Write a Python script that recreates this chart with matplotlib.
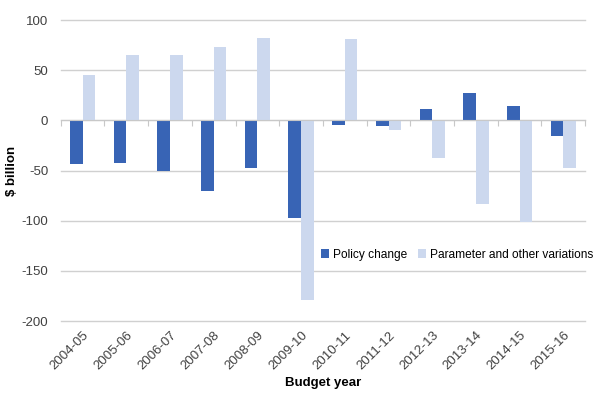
import matplotlib.pyplot as plt
import numpy as np

years = ['2004-05', '2005-06', '2006-07', '2007-08', '2008-09', '2009-10',
         '2010-11', '2011-12', '2012-13', '2013-14', '2014-15', '2015-16']
policy = [-43, -42, -50, -70, -47, -97, -5, -6, 11, 27, 14, -16]
param = [45, 65, 65, 73, 82, -179, 81, -10, -37, -83, -101, -47]

plt.rcParams['font.family'] = ['Liberation Sans', 'DejaVu Sans']
plt.rcParams['axes.unicode_minus'] = False

fig = plt.figure(figsize=(6.02, 3.93), dpi=100)
ax = fig.add_axes([0.101, 0.183, 0.871, 0.766])

x = np.arange(len(years))
w = 0.29
ax.bar(x - w / 2, policy, w, color='#3864B5', label='Policy change', zorder=3)
ax.bar(x + w / 2, param, w, color='#CCD8EE', label='Parameter and other variations', zorder=3)

ax.set_ylim(-200, 100)
ax.set_xlim(-0.5, len(years) - 0.5)
ax.set_yticks(range(-200, 101, 50))
ax.yaxis.grid(True, color='#D0D0D0', linewidth=1, zorder=0, clip_on=False)
ax.tick_params(axis='y', length=0, labelsize=9.5, colors='#404040', pad=9)

for s in ['top', 'right', 'left']:
    ax.spines[s].set_visible(False)
# category axis sits on the zero line, with ticks between categories
ax.spines['bottom'].set_position(('data', 0))
ax.spines['bottom'].set_color('#C8C8C8')
ax.spines['bottom'].set_zorder(4)
ax.set_xticks(np.arange(-0.5, len(years), 1))
ax.tick_params(axis='x', length=4, color='#C8C8C8', labelbottom=False)

# labels at the bottom of the plot
sec = ax.secondary_xaxis(0)
sec.spines['bottom'].set_visible(False)
sec.set_xticks(x)
sec.set_xticklabels(years, rotation=45, ha='right', rotation_mode='anchor',
                    fontsize=9.5, color='#404040')
sec.tick_params(axis='x', length=0, pad=6)
sec.set_xlabel('Budget year', fontweight='bold', fontsize=9.5, labelpad=3)

ax.set_ylabel('$ billion', fontweight='bold', fontsize=9.5)
ax.yaxis.set_label_coords(-0.082, 0.5)

ax.legend(loc='center right', bbox_to_anchor=(1.015, 0.22), ncol=2, frameon=False,
          fontsize=8.6, handlelength=0.7, handleheight=0.7, handletextpad=0.3,
          columnspacing=0.9, borderaxespad=0, borderpad=0)

fig.savefig('out.png', dpi=100)
